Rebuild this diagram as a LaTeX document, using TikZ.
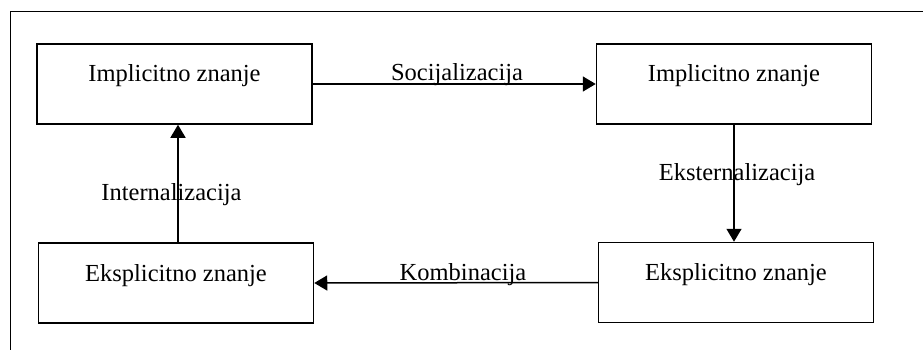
\documentclass[tikz,border=0pt]{standalone}
\usepackage{fontspec}
\setmainfont{Liberation Serif}
\usetikzlibrary{arrows.meta}
\begin{document}
\begin{tikzpicture}[x=1pt,y=-1pt,
  stagebox/.style={draw,line width=1.5pt,minimum width=275pt,minimum height=80pt,inner sep=0pt,
    text height=17pt,text depth=21pt,font=\fontsize{24.5}{29}\selectfont},
  flowlabel/.style={anchor=base,inner sep=0pt,font=\fontsize{24.5}{29}\selectfont},
  flow/.style={line width=1.5pt,-{Triangle[length=13pt,width=15pt]}},
  frameline/.style={line width=1pt}]
\useasboundingbox (0,0) rectangle (923,350);
\coordinate (f1) at (10,12);
\coordinate (f2) at (923,12);
\coordinate (f3) at (10,350);
\draw[frameline] (f2) -- (f1) -- (f3);
\node[stagebox] (A) at (174.5,84) {Implicitno znanje};
\node[stagebox] (B) at (734,84) {Implicitno znanje};
\node[stagebox] (C) at (736,282.5) {Eksplicitno znanje};
\node[stagebox] (D) at (176,283) {Eksplicitno znanje};
\draw[flow] (A.east) -- (B.west);
\draw[flow] (B.south) -- (B.south |- C.north);
\draw[flow] (C.west) -- (D.east);
\draw[flow] ([xshift=2pt]D.north) -- ([xshift=2pt]D.north |- A.south);
\node[flowlabel] (ls) at (457,81) {Socijalizacija};
\node[flowlabel] (le) at (737,180) {Eksternalizacija};
\node[flowlabel] (lk) at (463,280) {Kombinacija};
\node[flowlabel] (li) at (171.5,200) {Internalizacija};
\end{tikzpicture}
\end{document}
